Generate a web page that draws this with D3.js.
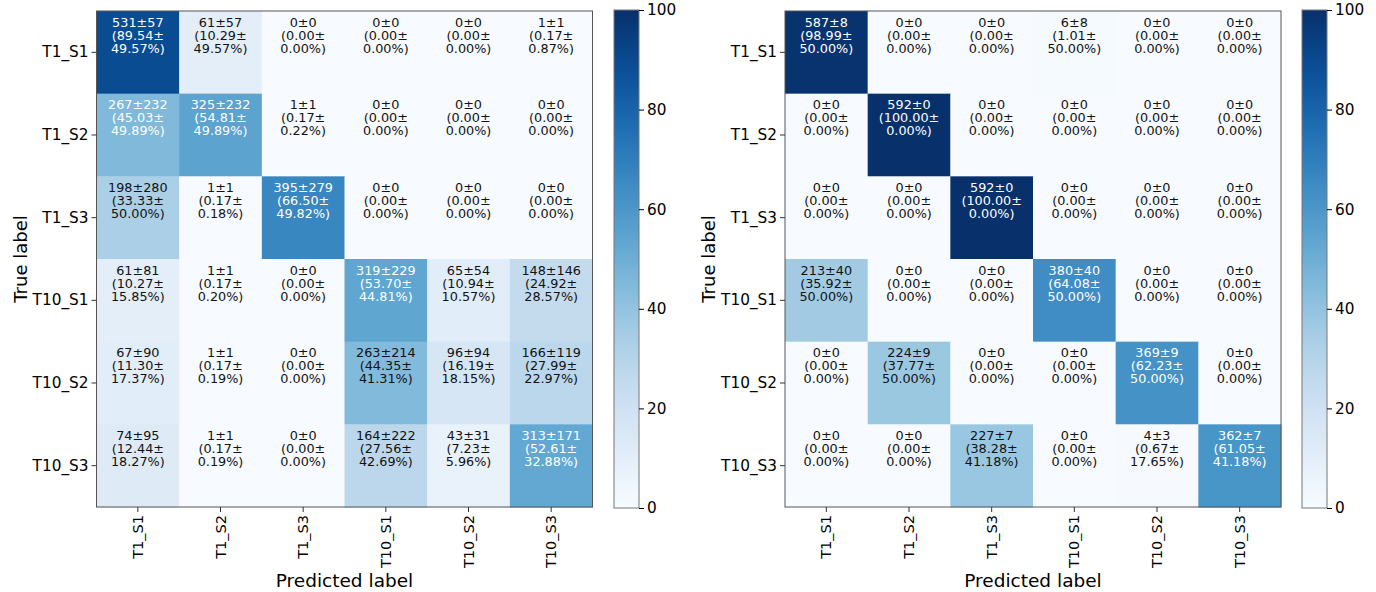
<!DOCTYPE html>
<html>
<head>
<meta charset="utf-8">
<script src="https://cdn.jsdelivr.net/npm/d3@7"></script>
<style>
  body { margin: 0; background: #fff; }
  svg text { font-family: "DejaVu Sans", sans-serif; }
</style>
</head>
<body>
<svg id="chart" width="1376" height="592"></svg>
<script>
var labels = ["T1_S1", "T1_S2", "T1_S3", "T10_S1", "T10_S2", "T10_S3"];
var colorTicks = [0, 20, 40, 60, 80, 100];

// left matrix
var leftCount = [
  [531, 61, 0, 0, 0, 1],
  [267, 325, 1, 0, 0, 0],
  [198, 1, 395, 0, 0, 0],
  [61, 1, 0, 319, 65, 148],
  [67, 1, 0, 263, 96, 166],
  [74, 1, 0, 164, 43, 313]
];
var leftCountStd = [
  [57, 57, 0, 0, 0, 1],
  [232, 232, 1, 0, 0, 0],
  [280, 1, 279, 0, 0, 0],
  [81, 1, 0, 229, 54, 146],
  [90, 1, 0, 214, 94, 119],
  [95, 1, 0, 222, 31, 171]
];
var leftPct = [
  [89.54, 10.29, 0, 0, 0, 0.17],
  [45.03, 54.81, 0.17, 0, 0, 0],
  [33.33, 0.17, 66.50, 0, 0, 0],
  [10.27, 0.17, 0, 53.70, 10.94, 24.92],
  [11.30, 0.17, 0, 44.35, 16.19, 27.99],
  [12.44, 0.17, 0, 27.56, 7.23, 52.61]
];
var leftPctStd = [
  [49.57, 49.57, 0, 0, 0, 0.87],
  [49.89, 49.89, 0.22, 0, 0, 0],
  [50.00, 0.18, 49.82, 0, 0, 0],
  [15.85, 0.20, 0, 44.81, 10.57, 28.57],
  [17.37, 0.19, 0, 41.31, 18.15, 22.97],
  [18.27, 0.19, 0, 42.69, 5.96, 32.88]
];

// right matrix
var rightCount = [
  [587, 0, 0, 6, 0, 0],
  [0, 592, 0, 0, 0, 0],
  [0, 0, 592, 0, 0, 0],
  [213, 0, 0, 380, 0, 0],
  [0, 224, 0, 0, 369, 0],
  [0, 0, 227, 0, 4, 362]
];
var rightCountStd = [
  [8, 0, 0, 8, 0, 0],
  [0, 0, 0, 0, 0, 0],
  [0, 0, 0, 0, 0, 0],
  [40, 0, 0, 40, 0, 0],
  [0, 9, 0, 0, 9, 0],
  [0, 0, 7, 0, 3, 7]
];
var rightPct = [
  [98.99, 0, 0, 1.01, 0, 0],
  [0, 100, 0, 0, 0, 0],
  [0, 0, 100, 0, 0, 0],
  [35.92, 0, 0, 64.08, 0, 0],
  [0, 37.77, 0, 0, 62.23, 0],
  [0, 0, 38.28, 0, 0.67, 61.05]
];
var rightPctStd = [
  [50.00, 0, 0, 50.00, 0, 0],
  [0, 0, 0, 0, 0, 0],
  [0, 0, 0, 0, 0, 0],
  [50.00, 0, 0, 50.00, 0, 0],
  [0, 50.00, 0, 0, 50.00, 0],
  [0, 0, 41.18, 0, 17.65, 41.18]
];

var svg = d3.select("#chart");
var color = d3.scaleSequential(d3.interpolateBlues).domain([0, 100]);

var size = 496;
var top0 = 11;

function drawMatrix(left, count, countStd, pct, pctStd, cbLeft, gradId) {
  var g = svg.append("g").attr("transform", "translate(" + left + "," + top0 + ")");
  var x = d3.scaleBand().domain(labels).range([0, size]);
  var y = d3.scaleBand().domain(labels).range([0, size]);
  var maxPct = d3.max(pct, function(r) { return d3.max(r); });
  var thresh = maxPct / 2;

  var cells = [];
  pct.forEach(function(row, i) {
    row.forEach(function(v, j) {
      cells.push({r: i, c: j, pct: v, pstd: pctStd[i][j], n: count[i][j], nstd: countStd[i][j]});
    });
  });

  g.selectAll(".cell")
    .data(cells)
    .enter().append("rect")
      .attr("class", "cell")
      .attr("x", function(d) { return x(labels[d.c]); })
      .attr("y", function(d) { return y(labels[d.r]); })
      .attr("width", x.bandwidth() + 0.5)
      .attr("height", y.bandwidth() + 0.5)
      .attr("fill", function(d) { return color(d.pct); });

  var txt = g.selectAll(".lbl")
    .data(cells)
    .enter().append("text")
      .attr("class", "lbl")
      .attr("text-anchor", "middle")
      .attr("font-size", "12.8px")
      .attr("fill", function(d) { return d.pct > thresh ? "#fff" : "#111"; });

  txt.each(function(d) {
    var t = d3.select(this);
    var cx = x(labels[d.c]) + x.bandwidth() / 2;
    var cy = y(labels[d.r]);
    var lines = [d.n + "\u00b1" + d.nstd,
                 "(" + d.pct.toFixed(2) + "\u00b1",
                 d.pstd.toFixed(2) + "%)"];
    lines.forEach(function(s, k) {
      t.append("tspan").attr("x", cx).attr("y", cy + 15.5 + k * 13).text(s);
    });
  });

  g.append("rect")
    .attr("width", size).attr("height", size)
    .attr("fill", "none").attr("stroke", "#555").attr("stroke-width", 1);

  var yAxis = g.append("g")
    .call(d3.axisLeft(y).tickSize(5).tickPadding(3));
  yAxis.select(".domain").remove();
  yAxis.selectAll("text").attr("font-size", "15.3px").attr("fill", "#000");

  var xAxis = g.append("g")
    .attr("transform", "translate(0," + size + ")")
    .call(d3.axisBottom(x).tickSize(5).tickPadding(3));
  xAxis.select(".domain").remove();
  xAxis.selectAll("text")
    .attr("font-size", "14.5px").attr("fill", "#000")
    .attr("transform", "rotate(-90)")
    .attr("text-anchor", "end")
    .attr("x", -8).attr("y", 0)
    .attr("dx", 0).attr("dy", "0.35em");
  xAxis.selectAll("line").attr("stroke", "#333");
  yAxis.selectAll("line").attr("stroke", "#333");

  g.append("text")
    .attr("x", size / 2).attr("y", 576)
    .attr("text-anchor", "middle")
    .attr("font-size", "18.5px")
    .text("Predicted label");

  g.append("text")
    .attr("transform", "translate(-70," + (size / 2) + ") rotate(-90)")
    .attr("text-anchor", "middle")
    .attr("font-size", "18px")
    .text("True label");

  // colorbar
  var cbTop = 10, cbH = 498, cbW = 25;
  var grad = svg.append("defs").append("linearGradient")
    .attr("id", gradId).attr("x1", "0").attr("y1", "1").attr("x2", "0").attr("y2", "0");
  d3.range(0, 101, 5).forEach(function(v) {
    grad.append("stop").attr("offset", v + "%").attr("stop-color", color(v));
  });
  var cb = svg.append("g").attr("transform", "translate(" + cbLeft + "," + cbTop + ")");
  cb.append("rect").attr("width", cbW).attr("height", cbH)
    .attr("fill", "url(#" + gradId + ")").attr("stroke", "#777").attr("stroke-width", 1);
  var cScale = d3.scaleLinear().domain([0, 100]).range([cbH, 0]);
  var cAxis = cb.append("g").attr("transform", "translate(" + cbW + ",0)")
    .call(d3.axisRight(cScale).tickValues(colorTicks).tickSize(5).tickPadding(3));
  cAxis.select(".domain").remove();
  cAxis.selectAll("text").attr("font-size", "15.3px").attr("fill", "#000");
}

drawMatrix(96.5, leftCount, leftCountStd, leftPct, leftPctStd, 614, "gradL");
drawMatrix(785, rightCount, rightCountStd, rightPct, rightPctStd, 1302, "gradR");
</script>
</body>
</html>
